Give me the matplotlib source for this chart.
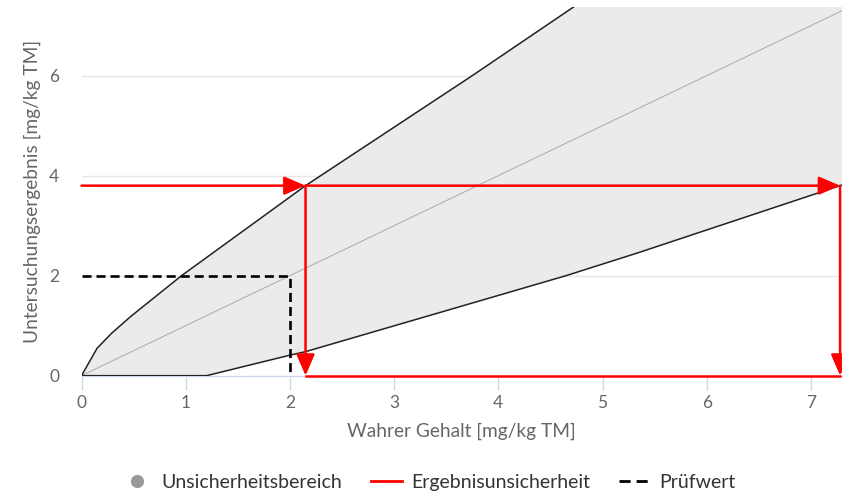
import matplotlib
matplotlib.use('Agg')
import matplotlib.pyplot as plt
from matplotlib.lines import Line2D

plt.rcParams['font.family'] = ['Lato', 'DejaVu Sans']
plt.rcParams['lines.scale_dashes'] = False

upper_x = [0, 0.15, 0.29, 0.47, 0.96, 2.15, 3.75, 4.72, 7.3]
upper_y = [0, 0.55, 0.85, 1.18, 2.0, 3.8, 6.0, 7.37, 11.0]
lower_x = [0, 1.2, 2.0, 2.15, 3.96, 4.65, 5.33, 7.28, 7.3]
lower_y = [0, 0, 0.41, 0.48, 1.58, 2.0, 2.45, 3.8, 3.81]
result = 3.8
range_lo, range_hi = 2.15, 7.28
pruefwert = 2.0
x_ticks = [0, 1, 2, 3, 4, 5, 6, 7]
y_ticks = [0, 2, 4, 6]

fig = plt.figure(figsize=(8.42, 4.93), dpi=100)
ax = fig.add_axes([0.0968, 0.238, 0.9034, 0.7475])
ax.set_xlim(0, 7.3)
ax.set_ylim(0, 7.37)

# uncertainty band
poly_x = upper_x + lower_x[::-1]
poly_y = upper_y + lower_y[::-1]
ax.fill(poly_x, poly_y, color='#ebebeb', lw=0, zorder=1)
ax.plot(upper_x, upper_y, color='#222222', lw=1.1, zorder=3)
ax.plot(lower_x, lower_y, color='#222222', lw=1.1, zorder=3)
ax.plot([0, 7.3], [0, 7.3], color='#aaaaaa', lw=0.7, zorder=2)

# Pruefwert
ax.plot([0, pruefwert, pruefwert], [pruefwert, pruefwert, 0], color='black', lw=1.9,
        dashes=(6.5, 3.6), zorder=4, clip_on=False)

# Ergebnisunsicherheit
red = '#ff0000'
arrow = dict(arrowstyle='-|>,head_length=13,head_width=5.6', color=red, lw=1.8,
             shrinkA=0, shrinkB=0, mutation_scale=1)
for start, end in [((0, result), (range_lo, result)),
                   ((range_lo, result), (range_hi, result)),
                   ((range_lo, result), (range_lo, 0)),
                   ((range_hi, result), (range_hi, 0))]:
    ax.annotate('', xy=end, xytext=start, arrowprops=arrow, zorder=5,
                annotation_clip=False)
ax.plot([range_lo, range_hi], [0, 0], color=red, lw=1.8, zorder=5, clip_on=False)

# axes styling
for s in ['top', 'right', 'left']:
    ax.spines[s].set_visible(False)
ax.spines['bottom'].set_color('#ccd6eb')
ax.spines['bottom'].set_zorder(2.5)
ax.set_xticks(x_ticks)
ax.set_yticks(y_ticks)
ax.tick_params(axis='x', colors='#ccd6eb', length=10, width=1, pad=4,
               labelcolor='#666666', labelsize=12.5)
ax.tick_params(axis='y', length=0, pad=16, labelcolor='#666666', labelsize=12.5)
ax.grid(axis='y', color='#e6e6e6', lw=1, zorder=0)
ax.set_axisbelow(True)
ax.set_xlabel('Wahrer Gehalt [mg/kg TM]', color='#666666', fontsize=13.8, labelpad=8)
ax.set_ylabel('Untersuchungsergebnis [mg/kg TM]', color='#666666', fontsize=13.8, labelpad=6)

handles = [
    Line2D([], [], ls='none', marker='o', ms=9.5, color='#999999', mec='none'),
    Line2D([], [], color=red, lw=2),
    Line2D([], [], color='black', lw=2, dashes=(8, 4.3)),
]
labels = ['Unsicherheitsbereich', 'Ergebnisunsicherheit', 'Prüfwert']
leg = fig.legend(handles, labels, loc='center', bbox_to_anchor=(0.509, 0.022), ncol=3,
                 frameon=False, fontsize=14, handlelength=1.55, handletextpad=0.5,
                 columnspacing=1.5)
for t in leg.get_texts():
    t.set_color('#333333')

fig.savefig('out.png', dpi=100)
